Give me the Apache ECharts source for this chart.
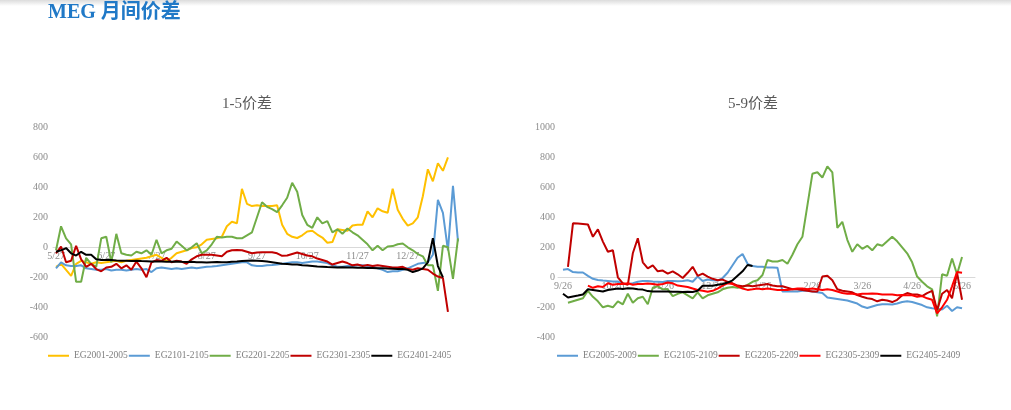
<!DOCTYPE html>
<html><head><meta charset="utf-8">
<script src="https://cdn.jsdelivr.net/npm/echarts@6/dist/echarts.min.js"></script>
<style>
html,body{margin:0;padding:0;background:#fff;}
#top{position:absolute;left:0;top:0;width:1011px;height:6px;background:linear-gradient(#dcdcdc,#ffffff);}
#c{position:absolute;left:0;top:0;width:1011px;height:410px;}
</style></head><body>
<div id="top"></div>
<div id="c"></div>
<script>
// x unit: months from first tick label; values sampled every STEP months
const STEP = 0.1;
const leftTicks = ['5/27','6/27','7/27','8/27','9/27','10/27','11/27','12/27'];
const rightTicks = ['9/26','10/26','11/26','12/26','1/26','2/26','3/26','4/26','5/26'];
const leftNames = ['EG2001-2005','EG2101-2105','EG2201-2205','EG2301-2305','EG2401-2405'];
const rightNames = ['EG2005-2009','EG2105-2109','EG2205-2209','EG2305-2309','EG2405-2409'];
const leftColors = ['#FFC000','#5B9BD5','#70AD47','#C00000','#000000'];
const rightColors = ['#5B9BD5','#70AD47','#C00000','#FF0000','#000000'];

// ---- 1-5 spread ----
const eg2001_2005 = [-130,-110,-150,-190,-110,-90,-100,-110,-100,-105,
  -100,-95,-90,-100,-90,-85,-80,-75,-70,-60,
  -50,-70,-90,-70,-40,-30,-20,-5,0,20,
  50,55,60,70,140,170,160,390,
  290,275,280,275,275,275,280,150,90,70,
  62,80,105,110,85,65,30,35,120,115,
  110,145,150,150,240,200,260,240,230,390,
  250,190,145,160,200,340,520,440,560,510,
  600];
const eg2101_2105 = [-140,-100,-120,-125,-125,-120,-140,-145,-150,-150,
  -145,-155,-150,-150,-155,-150,-145,-150,-145,-165,
  -140,-135,-140,-145,-140,-145,-140,-135,-140,-135,
  -130,-128,-125,-120,-115,-110,-105,-100,-100,-120,
  -125,-125,-120,-118,-115,-110,-105,-100,-100,-105,
  -100,-95,-95,-100,-105,-120,-130,-130,-125,-125,
  -120,-120,-125,-130,-140,-150,-165,-160,-160,-150,
  -140,-125,-110,-105,-100,-50,316,230,-20,410,40];
const eg2201_2205 = [-20,140,60,20,-230,-230,-70,-110,-130,60,
  70,-100,90,-40,-50,-55,-30,-40,-20,-50,
  50,-40,-20,-10,38,10,-20,0,27,-40,
  -20,20,70,65,70,70,60,60,80,100,
  200,300,270,255,235,280,330,430,370,215,
  150,130,200,160,175,100,120,90,125,100,
  80,50,20,-20,10,-20,5,8,20,25,
  0,-20,-45,-60,-120,-120,-290,10,0,-210,60];
const eg2301_2305 = [-40,5,-100,-90,10,-80,-130,-110,-145,-160,
  -135,-130,-110,-140,-120,-150,-95,-140,-200,-100,
  -85,-90,-70,-100,-90,-95,-110,-80,-60,-50,
  -50,-50,-55,-60,-30,-20,-18,-20,-30,-40,
  -35,-33,-33,-33,-40,-57,-55,-45,-35,-45,
  -55,-60,-75,-85,-95,-115,-105,-95,-105,-120,
  -115,-125,-118,-125,-120,-125,-130,-135,-135,-130,
  -145,-150,-140,-145,-150,-175,-195,-205,-430];
const eg2401_2405 = [-30,-20,-5,-40,-55,-30,-50,-50,-80,-85,
  -85,-85,-88,-90,-90,-92,-90,-92,-93,-95,
  -95,-95,-97,-96,-95,-97,-98,-97,-100,-100,
  -102,-100,-98,-100,-100,-97,-95,-92,-90,-88,
  -90,-92,-95,-100,-105,-110,-112,-115,-115,-120,
  -122,-125,-128,-130,-132,-133,-135,-133,-135,-135,
  -136,-137,-138,-138,-140,-140,-142,-143,-145,-145,
  -150,-165,-155,-140,-100,60,-125,-200];

// ---- 5-9 spread ----
const eg2005_2009 = [50,55,35,32,32,10,-10,-18,-22,-25,
  -28,-28,-45,-45,-40,-30,-25,-25,-28,-30,
  -32,-25,-25,-27,-25,-20,-30,5,-25,-15,
  -20,-22,-5,30,80,130,155,90,75,70,
  70,65,65,64,-95,-95,-95,-95,-90,-90,
  -95,-100,-105,-135,-140,-145,-150,-155,-165,-175,
  -195,-205,-195,-185,-180,-180,-182,-175,-165,-160,
  -165,-175,-185,-200,-207,-210,-215,-190,-225,-200,-207];
const eg2105_2109 = [null,-170,-160,-150,-140,-90,-130,-160,-200,-190,
  -200,-160,-180,-110,-170,-140,-130,-180,-70,-60,
  -80,-80,-125,-110,-100,-120,-140,-100,-140,-120,
  -110,-100,-80,-70,-65,-70,-65,-50,-30,-20,
  15,115,105,105,115,90,150,220,270,480,
  690,700,665,740,700,330,370,250,170,220,
  190,210,180,220,210,240,270,240,200,160,
  100,5,-30,-60,-80,-260,20,10,125,20,135];
const eg2205_2209 = [null,70,360,358,355,352,270,320,238,170,
  180,0,-40,-50,160,260,100,60,80,40,
  45,25,40,20,-5,30,70,10,25,5,
  -10,-20,-15,-30,-40,-55,-60,-55,-60,-55,
  -50,-45,-55,-60,-60,-70,-80,-80,-85,-90,
  -95,-95,5,10,-20,-80,-90,-95,-100,-118,
  -130,-140,-145,-160,-150,-155,-165,-150,-120,-105,
  -115,-115,-125,-105,-90,-220,-110,-85,-140,30,-150];
const eg2305_2309 = [null,null,null,null,null,-55,-70,-60,-65,-40,
  -50,-45,-45,-40,-50,-45,-45,-42,-45,-50,
  -45,-35,-40,-55,-60,-65,-75,-85,-90,-96,
  -90,-75,-55,-40,-45,-60,-75,-84,-80,-75,
  -80,-75,-80,-85,-85,-85,-80,-75,-75,-80,
  -75,-80,-85,-80,-85,-95,-105,-110,-110,-115,
  -110,-110,-108,-110,-115,-115,-115,-120,-118,-120,
  -120,-130,-125,-140,-150,-240,-200,-150,-60,35,30];
const eg2405_2409 = [-110,-135,-128,-122,-115,-80,-85,-90,-95,-85,
  -80,-75,-78,-73,-75,-80,-82,-92,-95,-95,
  -95,-95,-97,-97,-98,-97,-98,-90,-56,-56,
  -56,-50,-45,-35,-20,10,40,82,75];

const leftData = [eg2001_2005, eg2101_2105, eg2201_2205, eg2301_2305, eg2401_2405];
const rightData = [eg2005_2009, eg2105_2109, eg2205_2209, eg2305_2309, eg2405_2409];

const leftY = { min: -600, max: 800 };
const rightY = { min: -400, max: 1000 };
const GRID_H = 210;

const pairs = vals => vals.map((v, i) => [Math.round(i * STEP * 100) / 100, v]);

const SERIF = "'Liberation Serif','DejaVu Serif','Noto Sans CJK SC',serif";
const labelColor = '#8c8c8c';

function mkSeries(names, colors, data, idx) {
  return names.map((n, i) => ({
    name: n, type: 'line', xAxisIndex: idx, yAxisIndex: idx,
    data: pairs(data[i]), symbol: 'none', showSymbol: false,
    lineStyle: { width: 2, color: colors[i] }, itemStyle: { color: colors[i] },
    connectNulls: false, animation: false, z: 2 + i * 0.01
  }));
}

// x axis sits on the y=0 line: shift it up from the grid bottom by the zero position of the y scale
function mkX(idx, min, max, ticks, yr) {
  const zeroShift = GRID_H * (0 - yr.min) / (yr.max - yr.min);
  return {
    type: 'value', gridIndex: idx, min: min, max: max, position: 'bottom',
    offset: -zeroShift,
    axisLine: { show: true, onZero: false, lineStyle: { color: '#d9d9d9', width: 1 } },
    axisTick: { show: false }, splitLine: { show: false },
    axisLabel: {
      customValues: ticks.map((t, i) => i),
      formatter: v => ticks[Math.round(v)] || '',
      color: labelColor, fontSize: 10, fontFamily: SERIF, margin: 4
    }
  };
}
function mkY(idx, yr, margin) {
  return {
    type: 'value', gridIndex: idx, min: yr.min, max: yr.max, interval: 200,
    axisLine: { show: false, onZero: false }, axisTick: { show: false }, splitLine: { show: false },
    axisLabel: { color: labelColor, fontSize: 10, fontFamily: SERIF, margin: margin, formatter: v => String(v) }
  };
}
function mkLegend(names, left) {
  return {
    data: names, left: left, top: 351, orient: 'horizontal',
    icon: 'rect', itemWidth: 21, itemHeight: 2, itemGap: 1, padding: 0,
    textStyle: { color: '#7f7f7f', fontSize: 9.5, fontFamily: SERIF }
  };
}

const chart = echarts.init(document.getElementById('c'), null, { renderer: 'canvas' });
chart.setOption({
  animation: false,
  backgroundColor: 'transparent',
  title: [
    { text: 'MEG 月间价差', left: 48, top: 3, padding: 0,
      textStyle: { color: '#2079C7', fontSize: 20, fontWeight: 'bold', fontFamily: SERIF } },
    { text: '1-5价差', left: 247, textAlign: 'center', top: 97, padding: 0,
      textStyle: { color: '#595959', fontSize: 15, fontWeight: 'normal', fontFamily: SERIF } },
    { text: '5-9价差', left: 753, textAlign: 'center', top: 97, padding: 0,
      textStyle: { color: '#595959', fontSize: 15, fontWeight: 'normal', fontFamily: SERIF } }
  ],
  legend: [mkLegend(leftNames, 48), mkLegend(rightNames, 557)],
  grid: [
    { left: 53, top: 127.3, width: 405, height: GRID_H, containLabel: false },
    { left: 558, top: 127.3, width: 417, height: GRID_H, containLabel: false }
  ],
  xAxis: [mkX(0, -0.06, 8.0, leftTicks, leftY), mkX(1, -0.1, 8.26, rightTicks, rightY)],
  yAxis: [mkY(0, leftY, 5), mkY(1, rightY, 3)],
  series: mkSeries(leftNames, leftColors, leftData, 0).concat(mkSeries(rightNames, rightColors, rightData, 1))
});
</script>
</body></html>
